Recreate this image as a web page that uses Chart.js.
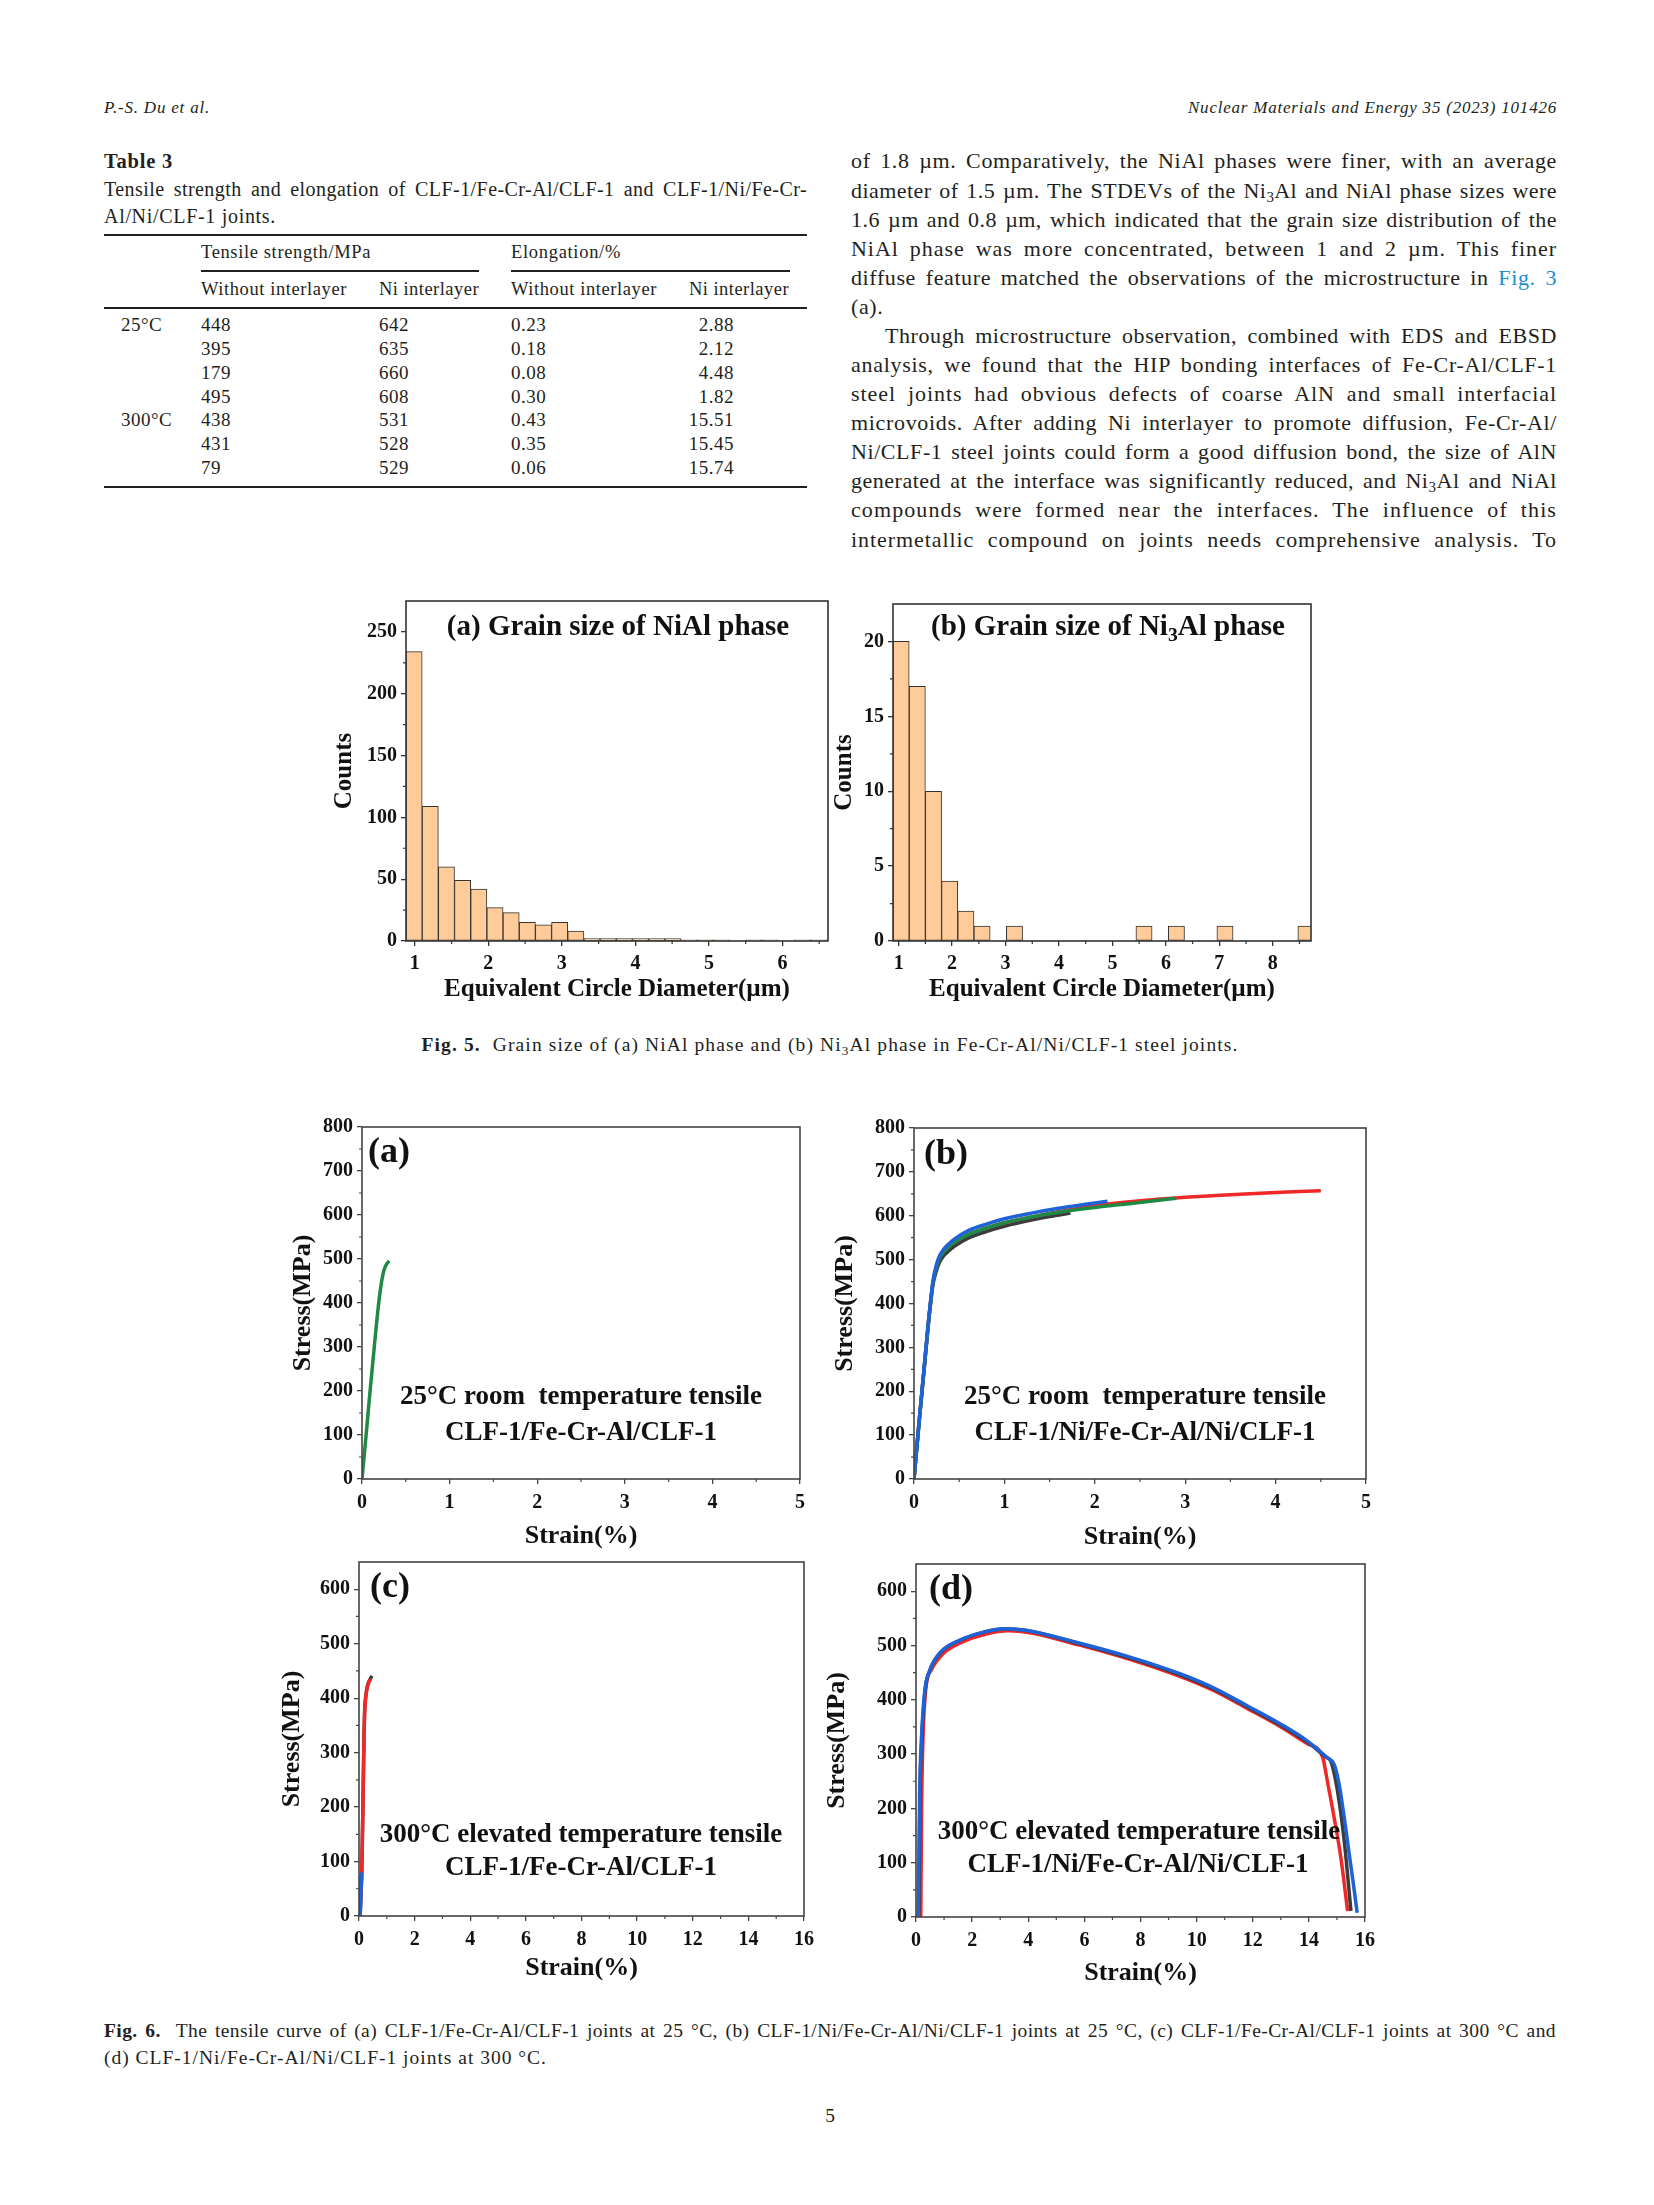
<!DOCTYPE html>
<html>
<head>
<meta charset="utf-8">
<title>Fig. 5 and Fig. 6</title>
<script src="https://cdn.jsdelivr.net/npm/chart.js@4.4.1/dist/chart.umd.min.js"></script>
<style>
  html, body { margin: 0; padding: 0; background: #fff; }
  #page { position: relative; width: 1654px; height: 2205px; overflow: hidden; font-family: 'Liberation Serif', 'Times New Roman', serif; color: #231f20; }
  canvas { position: absolute; }
  .sb { font-size: 0.68em; vertical-align: -0.28em; line-height: 0; }
</style>
</head>
<body>
<div id="page"></div>
<script>
// ---- table 3 ----
const rowTemps = ['25°C', '', '', '', '300°C', '', ''];
const tensileNone = ['448', '395', '179', '495', '438', '431', '79'];
const tensileNi = ['642', '635', '660', '608', '531', '528', '529'];
const elongNone = ['0.23', '0.18', '0.08', '0.30', '0.43', '0.35', '0.06'];
const elongNi = ['2.88', '2.12', '4.48', '1.82', '15.51', '15.45', '15.74'];

// ---- fig 5 histograms ----
const nialBinStart = 0.88;
const nialBinWidth = 0.22;
const nialCounts = [234, 109, 60, 49, 42, 27, 23, 15, 13, 15, 8, 2, 2, 2, 2, 2, 2, 1, 1, 1, 0, 1, 1, 0, 1, 1];
const ni3alBinStart = 0.894;
const ni3alBinWidth = 0.303;
const ni3alCounts = [20, 17, 10, 4, 2, 1, 0, 1, 0, 0, 0, 0, 0, 0, 0, 1, 0, 1, 0, 0, 1, 0, 0, 0, 0, 1];

const histAXTicks = [1, 2, 3, 4, 5, 6];
const histAXMinor = [1.5, 2.5, 3.5, 4.5, 5.5, 6.5];
const histAYTicks = [0, 50, 100, 150, 200, 250];
const histAYMinor = [25, 75, 125, 175, 225];
const histBXTicks = [1, 2, 3, 4, 5, 6, 7, 8];
const histBXMinor = [1.5, 2.5, 3.5, 4.5, 5.5, 6.5, 7.5, 8.5];
const histBYTicks = [0, 5, 10, 15, 20];
const histBYMinor = [2.5, 7.5, 12.5, 17.5];

// ---- fig 6 tensile curves ----
const aStrain = [0, 0.04, 0.09, 0.14, 0.19, 0.22, 0.25, 0.28, 0.31];
const aStress = [0, 85, 195, 300, 399, 444, 474, 488, 496];

const bBlueStrain = [0, 0.06, 0.11, 0.155, 0.21, 0.25, 0.28, 0.33, 0.38, 0.45, 0.6, 0.8, 1.0, 1.3, 1.6, 1.9, 2.14];
const bBlueStress = [0, 140, 250, 350, 452, 490, 508, 524, 535, 547, 566, 581, 593, 606, 617, 626, 633];
const bGreenStrain = [0, 0.06, 0.11, 0.155, 0.21, 0.25, 0.28, 0.33, 0.38, 0.45, 0.6, 0.8, 1.0, 1.3, 1.6, 2.0, 2.4, 2.9];
const bGreenStress = [0, 138, 247, 347, 448, 484, 502, 518, 528, 540, 557, 572, 584, 597, 608, 619, 628, 640];
const bBlackStrain = [0, 0.06, 0.11, 0.155, 0.21, 0.25, 0.28, 0.33, 0.38, 0.45, 0.6, 0.8, 1.0, 1.3, 1.5, 1.73];
const bBlackStress = [0, 136, 245, 344, 443, 476, 493, 509, 519, 531, 549, 564, 576, 590, 598, 606];
const bRedStrain = [0, 0.06, 0.11, 0.155, 0.21, 0.25, 0.28, 0.33, 0.38, 0.45, 0.6, 0.8, 1.0, 1.3, 1.6, 2.0, 2.5, 3.0, 3.5, 4.0, 4.5];
const bRedStress = [0, 138, 247, 347, 448, 484, 502, 518, 528, 540, 557, 572, 584, 597, 609, 623, 634, 642, 648, 653, 657];

const cBlueStrain = [0.04, 0.07, 0.09];
const cBlueStress = [0, 40, 80];
const cRedStrain = [0.04, 0.07, 0.1, 0.15, 0.18, 0.2, 0.24, 0.3, 0.36, 0.42];
const cRedStress = [0, 40, 80, 230, 330, 370, 400, 420, 430, 435];
const cGrayStrain = [0.04, 0.07, 0.1, 0.15, 0.18, 0.2, 0.24, 0.3, 0.36, 0.42, 0.47];
const cGrayStress = [0, 40, 80, 230, 330, 372, 402, 422, 431, 437, 441];

const dBlueStrain = [0.08, 0.13, 0.17, 0.3, 0.49, 0.88, 1.53, 2.44, 3.2, 3.9, 5.7, 7.6, 9.4, 10.6, 11.8, 13.0, 13.95, 14.66, 14.9, 15.08, 15.26, 15.44, 15.62, 15.72];
const dBlueStress = [0, 228, 301, 411, 454, 488, 509, 525, 531, 528, 506, 479, 448, 422, 389, 355, 324, 293, 281, 244, 183, 115, 48, 8];
const dGrayStrain = [0.1, 0.14, 0.2, 0.32, 0.5, 0.9, 1.55, 2.45, 3.2, 3.9, 5.7, 7.6, 9.4, 10.6, 11.8, 13.0, 13.95, 14.6, 14.78, 15.02, 15.26, 15.5];
const dGrayStress = [0, 220, 320, 415, 455, 488, 509, 525, 531, 528, 505, 477, 446, 420, 387, 353, 322, 295, 287, 232, 140, 11];
const dRedStrain = [0.17, 0.2, 0.25, 0.35, 0.55, 0.95, 1.6, 2.5, 3.3, 4.0, 5.8, 7.7, 9.4, 10.6, 11.8, 13.0, 13.95, 14.48, 14.66, 14.9, 15.14, 15.38];
const dRedStress = [0, 200, 330, 420, 455, 484, 505, 521, 527, 524, 501, 473, 443, 417, 384, 350, 319, 296, 250, 183, 109, 11];

const tenXTicksAB = [0, 1, 2, 3, 4, 5];
const tenXMinorAB = [0.5, 1.5, 2.5, 3.5, 4.5];
const tenYTicksAB = [0, 100, 200, 300, 400, 500, 600, 700, 800];
const tenYMinorAB = [50, 150, 250, 350, 450, 550, 650, 750];
const tenXTicksCD = [0, 2, 4, 6, 8, 10, 12, 14, 16];
const tenXMinorCD = [1, 3, 5, 7, 9, 11, 13, 15];
const tenYTicksCD = [0, 100, 200, 300, 400, 500, 600];
const tenYMinorCD = [50, 150, 250, 350, 450, 550];

const serif = "'Liberation Serif', 'Times New Roman', serif";
const page = document.getElementById('page');
Chart.defaults.font.family = serif;

function addDiv(html, css) {
  const d = document.createElement('div');
  d.innerHTML = html;
  d.style.cssText = 'position:absolute;white-space:nowrap;left:0;' + css;
  page.appendChild(d);
  return d;
}
// stretch a line to a measured width: the print font is wider than Times
function fit(el, target, justify) {
  const txt = el.textContent;
  const chars = txt.length;
  const spaces = (txt.match(/[ \u00a0]/g) || []).length;
  const w0 = el.getBoundingClientRect().width;
  let ls = (target - w0) * (justify ? 0.55 : 1) / chars;
  ls = Math.max(-0.6, Math.min(ls, 1.5));
  el.style.letterSpacing = ls + 'px';
  if (justify && spaces) {
    const w1 = el.getBoundingClientRect().width;
    el.style.wordSpacing = ((target - w1) / spaces) + 'px';
  }
}
function place(html, cy, size, extra) {
  return addDiv(html, `top:${cy - 0.66 * size}px;font-size:${size}px;line-height:${1.2 * size}px;` + (extra || ''));
}
function textAt(html, x, cy, size, extra, width, justify) {
  const d = place(html, cy, size, extra);
  if (width) fit(d, width, justify);
  d.style.left = x + 'px';
  return d;
}
function textRight(html, rx, cy, size, extra, width) {
  const d = place(html, cy, size, extra);
  if (width) fit(d, width, false);
  d.style.left = (rx - d.getBoundingClientRect().width) + 'px';
  return d;
}
function textCenter(html, cx, cy, size, extra, width) {
  const d = place(html, cy, size, extra);
  if (width) fit(d, width, false);
  d.style.left = (cx - d.getBoundingClientRect().width / 2) + 'px';
  return d;
}
function rule(x, y, w, h) {
  addDiv('', `left:${x}px;top:${y}px;width:${w}px;height:${h}px;background:#231f20;`);
}

// running header
textAt('P.-S. Du et al.', 104, 109, 17, 'font-style:italic;', 106);
textRight('Nuclear Materials and Energy 35 (2023) 101426', 1557, 109, 17, 'font-style:italic;', 369);

// table 3
textAt('Table 3', 104, 163, 20.5, 'font-weight:bold;', 69);
textAt('Tensile strength and elongation of CLF-1/Fe-Cr-Al/CLF-1 and CLF-1/Ni/Fe-Cr-', 104, 190, 20, '', 703, true);
textAt('Al/Ni/CLF-1 joints.', 104, 217, 20, '', 172);
rule(104, 234, 703, 2);
textAt('Tensile strength/MPa', 201, 253, 18.5, '', 170);
textAt('Elongation/%', 511, 253, 18.5, '', 110);
rule(201, 270, 278, 1.5);
rule(511, 270, 279, 1.5);
textAt('Without interlayer', 201, 290, 18.5, '', 146);
textAt('Ni interlayer', 379, 290, 18.5, '', 100);
textAt('Without interlayer', 511, 290, 18.5, '', 146);
textAt('Ni interlayer', 689, 290, 18.5, '', 100);
rule(104, 307, 703, 1.6);
rowTemps.forEach((t, i) => {
  const cy = 327 + i * 23.7;
  const cell = 'letter-spacing:0.5px;';
  if (t) textAt(t, 121, cy, 19, cell);
  textAt(tensileNone[i], 201, cy, 19, cell);
  textAt(tensileNi[i], 379, cy, 19, cell);
  textAt(elongNone[i], 511, cy, 19, cell);
  textRight(elongNi[i], 734, cy, 19, cell);
});
rule(104, 486, 703, 1.6);

// right column text
const bodyLines = [
  'of 1.8 µm. Comparatively, the NiAl phases were finer, with an average',
  'diameter of 1.5 µm. The STDEVs of the Ni<span class="sb">3</span>Al and NiAl phase sizes were',
  '1.6 µm and 0.8 µm, which indicated that the grain size distribution of the',
  'NiAl phase was more concentrated, between 1 and 2 µm. This finer',
  'diffuse feature matched the observations of the microstructure in <span style="color:#1a8fd1">Fig. 3</span>',
  '(a).',
  '<span style="padding-left:34px"></span>Through microstructure observation, combined with EDS and EBSD',
  'analysis, we found that the HIP bonding interfaces of Fe-Cr-Al/CLF-1',
  'steel joints had obvious defects of coarse AlN and small interfacial',
  'microvoids. After adding Ni interlayer to promote diffusion, Fe-Cr-Al/',
  'Ni/CLF-1 steel joints could form a good diffusion bond, the size of AlN',
  'generated at the interface was significantly reduced, and Ni<span class="sb">3</span>Al and NiAl',
  'compounds were formed near the interfaces. The influence of this',
  'intermetallic compound on joints needs comprehensive analysis. To'
];
bodyLines.forEach((ln, i) => {
  const cy = 163 + i * 29.08;
  if (i === 5) textAt(ln, 851, cy, 22, 'letter-spacing:0.6px;');
  else textAt(ln, 851, cy, 22, '', 706, true);
});

// captions
textCenter('<b>Fig. 5.</b>&nbsp; Grain size of (a) NiAl phase and (b) Ni<span class="sb">3</span>Al phase in Fe-Cr-Al/Ni/CLF-1 steel joints.', 830, 1046, 19.5, '', 817);
textAt('<b>Fig. 6.</b>&nbsp; The tensile curve of (a) CLF-1/Fe-Cr-Al/CLF-1 joints at 25 °C, (b) CLF-1/Ni/Fe-Cr-Al/Ni/CLF-1 joints at 25 °C, (c) CLF-1/Fe-Cr-Al/CLF-1 joints at 300 °C and', 104, 2032, 19.5, '', 1452, true);
textAt('(d) CLF-1/Ni/Fe-Cr-Al/Ni/CLF-1 joints at 300 °C.', 104, 2059, 19.5, '', 443);
textCenter('5', 830, 2117, 19.5);

// frame + minor ticks
const framePlugin = {
  id: 'frame',
  afterDraw(chart, args, o) {
    const { ctx, chartArea: a, scales } = chart;
    ctx.save();
    ctx.strokeStyle = o.color;
    ctx.lineWidth = o.width;
    ctx.strokeRect(a.left, a.top, a.right - a.left, a.bottom - a.top);
    ctx.lineWidth = 1.2;
    ctx.beginPath();
    (o.xMinor || []).forEach(v => {
      const px = scales.x.getPixelForValue(v);
      if (px > a.right + 0.5) return;
      ctx.moveTo(px, a.bottom); ctx.lineTo(px, a.bottom + 3);
    });
    (o.yMinor || []).forEach(v => {
      const py = scales.y.getPixelForValue(v);
      if (py < a.top - 0.5) return;
      ctx.moveTo(a.left - 3, py); ctx.lineTo(a.left, py);
    });
    ctx.stroke();
    ctx.restore();
  }
};

function axisCfg(min, max, major, size, tickSize, tickLen, pad, title, titleSize, lineColor) {
  return {
    type: 'linear', min, max, offset: false,
    afterBuildTicks: s => { s.ticks = major.map(v => ({ value: v })); },
    afterFit: s => { if (s.isHorizontal()) s.height = size; else s.width = size; },
    ticks: { font: { family: serif, size: tickSize, weight: 'bold' }, color: '#111', padding: pad, autoSkip: false, maxRotation: 0, minRotation: 0 },
    grid: { display: true, drawOnChartArea: false, drawTicks: true, tickLength: tickLen, color: lineColor, lineWidth: 1.3, offset: false },
    border: { display: false },
    title: { display: true, text: title, font: { family: serif, size: titleSize, weight: 'bold' }, color: '#111', padding: 0 }
  };
}

function makePanel(g, type, datasets, ax) {
  const lh = g.titleSize * 1.2;
  const cl = Math.round(g.yTitleX - lh / 2);
  const ct = Math.round(g.T - 20);
  const cr = Math.round(g.R + 18);
  const cb = Math.round(g.xTitleY + lh / 2);
  const L = Math.round(g.L), T = Math.round(g.T), R = Math.round(g.R), B = Math.round(g.B);
  const cv = document.createElement('canvas');
  cv.width = cr - cl; cv.height = cb - ct;
  cv.style.left = cl + 'px'; cv.style.top = ct + 'px';
  cv.style.width = (cr - cl) + 'px'; cv.style.height = (cb - ct) + 'px';
  page.appendChild(cv);
  new Chart(cv, {
    type,
    data: { datasets },
    plugins: [framePlugin],
    options: {
      responsive: false, animation: false, devicePixelRatio: 1,
      layout: { padding: { top: T - ct, right: cr - R, left: 0, bottom: 0 } },
      plugins: {
        legend: { display: false }, tooltip: { enabled: false },
        frame: { color: ax.line, width: 1.6, xMinor: ax.xMinor, yMinor: ax.yMinor }
      },
      scales: {
        x: axisCfg(ax.xMin, ax.xMax, ax.xTicks, cb - B, ax.tickSize, 5, ax.xPad, ax.xTitle, g.titleSize, ax.line),
        y: axisCfg(ax.yMin, ax.yMax, ax.yTicks, L - cl, ax.tickSize, 5, 4, ax.yTitle, g.titleSize, ax.line)
      }
    }
  });
}

function histSet(start, width, counts) {
  return [{
    data: counts.map((c, i) => ({ x: start + width * (i + 0.5), y: c })),
    backgroundColor: '#FFCC99', borderColor: '#333', borderWidth: 1,
    borderSkipped: false, barPercentage: 1, categoryPercentage: 1
  }];
}
function curve(xs, ys, color) {
  return {
    data: xs.map((x, i) => ({ x, y: ys[i] })),
    borderColor: color, borderWidth: 3.5, pointRadius: 0,
    cubicInterpolationMode: 'monotone', fill: false
  };
}

const GREEN = '#1f8a44', BLUE = '#1f62d8', RED = '#f02828', GRAY = '#3c3c3c';

// Fig. 5 (a)
makePanel({ L: 405.7, T: 601, R: 828.3, B: 941, yTitleX: 345, xTitleY: 990, titleSize: 25 }, 'bar',
  histSet(nialBinStart, nialBinWidth, nialCounts),
  { xMin: 0.88, xMax: 6.62, xTicks: histAXTicks, xMinor: histAXMinor, yMin: 0, yMax: 275, yTicks: histAYTicks, yMinor: histAYMinor,
    tickSize: 20, xPad: 6, xTitle: 'Equivalent Circle Diameter(µm)', yTitle: 'Counts', line: '#333' });
// Fig. 5 (b)
makePanel({ L: 893, T: 604, R: 1311, B: 941, yTitleX: 845, xTitleY: 990, titleSize: 25 }, 'bar',
  histSet(ni3alBinStart, ni3alBinWidth, ni3alCounts),
  { xMin: 0.894, xMax: 8.715, xTicks: histBXTicks, xMinor: histBXMinor, yMin: 0, yMax: 22.5, yTicks: histBYTicks, yMinor: histBYMinor,
    tickSize: 20, xPad: 6, xTitle: 'Equivalent Circle Diameter(µm)', yTitle: 'Counts', line: '#333' });

textCenter('(a) Grain size of NiAl phase', 618, 627, 29, 'font-weight:bold;color:#111;');
textCenter('(b) Grain size of Ni<span class="sb">3</span>Al phase', 1108, 627, 29, 'font-weight:bold;color:#111;');

// Fig. 6 (a)
makePanel({ L: 362, T: 1127, R: 800, B: 1479, yTitleX: 304, xTitleY: 1536, titleSize: 26 }, 'line',
  [curve(aStrain, aStress, GREEN)],
  { xMin: 0, xMax: 5, xTicks: tenXTicksAB, xMinor: tenXMinorAB, yMin: 0, yMax: 800, yTicks: tenYTicksAB, yMinor: tenYMinorAB,
    tickSize: 20, xPad: 7, xTitle: 'Strain(%)', yTitle: 'Stress(MPa)', line: '#444' });
// Fig. 6 (b)
makePanel({ L: 913.5, T: 1128, R: 1365.5, B: 1479, yTitleX: 846, xTitleY: 1537, titleSize: 26 }, 'line',
  [curve(bBlueStrain, bBlueStress, BLUE), curve(bGreenStrain, bGreenStress, GREEN),
   curve(bBlackStrain, bBlackStress, GRAY), curve(bRedStrain, bRedStress, RED)],
  { xMin: 0, xMax: 5, xTicks: tenXTicksAB, xMinor: tenXMinorAB, yMin: 0, yMax: 800, yTicks: tenYTicksAB, yMinor: tenYMinorAB,
    tickSize: 20, xPad: 7, xTitle: 'Strain(%)', yTitle: 'Stress(MPa)', line: '#444' });
// Fig. 6 (c)
makePanel({ L: 359, T: 1562, R: 804, B: 1916, yTitleX: 293, xTitleY: 1968, titleSize: 26 }, 'line',
  [curve(cBlueStrain, cBlueStress, BLUE), curve(cRedStrain, cRedStress, RED), curve(cGrayStrain, cGrayStress, GRAY)],
  { xMin: 0, xMax: 16, xTicks: tenXTicksCD, xMinor: tenXMinorCD, yMin: 0, yMax: 650, yTicks: tenYTicksCD, yMinor: tenYMinorCD,
    tickSize: 20, xPad: 7, xTitle: 'Strain(%)', yTitle: 'Stress(MPa)', line: '#444' });
// Fig. 6 (d)
makePanel({ L: 915.6, T: 1564, R: 1365, B: 1917, yTitleX: 838, xTitleY: 1973, titleSize: 26 }, 'line',
  [curve(dBlueStrain, dBlueStress, BLUE), curve(dGrayStrain, dGrayStress, GRAY), curve(dRedStrain, dRedStress, RED)],
  { xMin: 0, xMax: 16, xTicks: tenXTicksCD, xMinor: tenXMinorCD, yMin: 0, yMax: 650, yTicks: tenYTicksCD, yMinor: tenYMinorCD,
    tickSize: 20, xPad: 7, xTitle: 'Strain(%)', yTitle: 'Stress(MPa)', line: '#444' });

// panel labels and notes
const noteCss = 'font-weight:bold;color:#111;';
textCenter('(a)', 389, 1153, 36, noteCss);
textCenter('(b)', 946, 1155, 36, noteCss);
textCenter('(c)', 390, 1588, 36, noteCss);
textCenter('(d)', 951, 1590, 36, noteCss);
textCenter('25°C room&nbsp; temperature tensile', 581, 1397, 27, noteCss);
textCenter('CLF-1/Fe-Cr-Al/CLF-1', 581, 1433, 27, noteCss);
textCenter('25°C room&nbsp; temperature tensile', 1145, 1397, 27, noteCss);
textCenter('CLF-1/Ni/Fe-Cr-Al/Ni/CLF-1', 1145, 1433, 27, noteCss);
textCenter('300°C elevated temperature tensile', 581, 1835, 27, noteCss);
textCenter('CLF-1/Fe-Cr-Al/CLF-1', 581, 1868, 27, noteCss);
textCenter('300°C elevated temperature tensile', 1139, 1832, 27, noteCss);
textCenter('CLF-1/Ni/Fe-Cr-Al/Ni/CLF-1', 1138, 1865, 27, noteCss);
</script>
</body>
</html>
